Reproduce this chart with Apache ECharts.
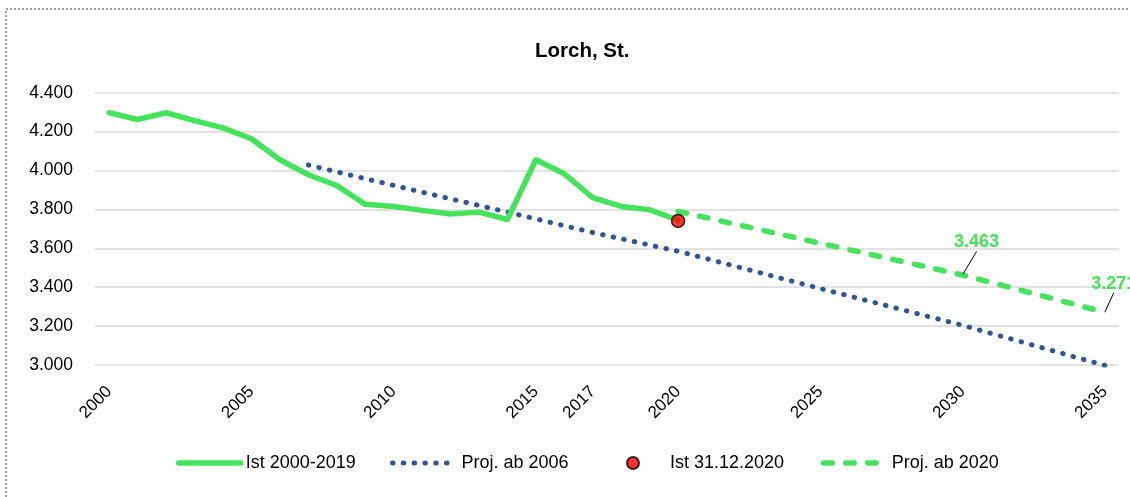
<!DOCTYPE html>
<html>
<head>
<meta charset="utf-8">
<style>
  html, body { margin: 0; padding: 0; background: #fff; }
  #chart { width: 1130px; height: 497px; }
</style>
<script src="https://cdn.jsdelivr.net/npm/echarts@6/dist/echarts.min.js"></script>
</head>
<body>
<div id="chart"></div>
<script>
// Einwohnerentwicklung Lorch, St.
const years = ['2000','2001','2002','2003','2004','2005','2006','2007','2008','2009',
  '2010','2011','2012','2013','2014','2015','2016','2017','2018','2019',
  '2020','2021','2022','2023','2024','2025','2026','2027','2028','2029',
  '2030','2031','2032','2033','2034','2035'];
const labelYears = ['2000','2005','2010','2015','2017','2020','2025','2030','2035'];

// Ist 2000-2019 (bis zum Stand 31.12.2020)
const istYears = ['2000','2001','2002','2003','2004','2005','2006','2007','2008','2009',
  '2010','2011','2012','2013','2014','2015','2016','2017','2018','2019','2020'];
const istValues = [4297, 4262, 4297, 4256, 4219, 4163, 4055, 3978, 3923, 3826,
  3815, 3795, 3776, 3786, 3748, 4055, 3983, 3860, 3815, 3798, 3745];

// Proj. ab 2006
const proj2006Years = ['2007','2010','2014','2017','2020','2025','2030','2035'];
const proj2006Values = [4028, 3923, 3786, 3681, 3585, 3393, 3204, 2998];

// Ist 31.12.2020
const ist2020Year = '2020';
const ist2020Value = 3741;

// Proj. ab 2020
const proj2020Years = ['2020','2025','2030','2035'];
const proj2020Values = [3790, 3626, 3463, 3271];
const proj2020LabelYears = ['2030','2035'];

const yTicks = { min: 3000, max: 4400, step: 200 };

const GREEN = '#45E35B';
const BLUE = '#2F5597';
const SANS = "'Liberation Sans', Arial, sans-serif";

const SOLID = { color: GREEN, width: 5.5, type: 'solid', cap: 'round', join: 'round' };
const DOTTED = { color: BLUE, width: 5, type: [0.5, 10.3], cap: 'round' };
const DASHED = { color: GREEN, width: 5.5, type: [8.5, 13.5], cap: 'round' };

const fmt = v => String(Math.round(v)).replace(/\B(?=(\d{3})+(?!\d))/g, '.');
const pairs = (xs, ys) => xs.map((x, i) => [x, ys[i]]);

const chart = echarts.init(document.getElementById('chart'), null, { renderer: 'canvas' });

const proj2020Data = proj2020Years.map((y, i) => {
  const item = { value: [y, proj2020Values[i]] };
  if (proj2020LabelYears.includes(y)) {
    item.label = { show: true };
    item.labelLine = { show: true };
  }
  return item;
});

// one legend block per entry, so each sits at its own place in the row
const legendBase = {
  top: 454,
  padding: 0,
  itemHeight: 12,
  textStyle: { fontFamily: SANS, fontSize: 18, color: '#000' }
};

chart.setOption({
  animation: false,
  backgroundColor: '#ffffff',
  graphic: [{
    type: 'rect',
    shape: { x: 6, y: 9, width: 1200, height: 600 },
    style: { fill: 'none', stroke: '#7f7f7f', lineWidth: 1.5, lineDash: [2, 2] },
    silent: true
  }],
  title: {
    text: 'Lorch, St.',
    left: 530,
    top: 36,
    textStyle: { fontFamily: SANS, fontSize: 20.5, fontWeight: 'bold', color: '#000' }
  },
  grid: { left: 95, right: 11, top: 92.7, bottom: 132, containLabel: false },
  xAxis: {
    type: 'category',
    data: years,
    boundaryGap: true,
    axisLine: { show: false },
    axisTick: { show: false },
    splitLine: { show: false },
    axisLabel: {
      interval: (idx, val) => labelYears.includes(val),
      rotate: 45,
      margin: 24,
      fontFamily: SANS,
      fontSize: 17,
      color: '#000'
    }
  },
  yAxis: {
    type: 'value',
    min: yTicks.min,
    max: yTicks.max,
    interval: yTicks.step,
    axisLine: { show: false },
    axisTick: { show: false },
    splitLine: { lineStyle: { color: '#D9D9D9', width: 1.5 } },
    axisLabel: {
      formatter: fmt,
      margin: 22,
      fontFamily: SANS,
      fontSize: 17.5,
      color: '#000'
    }
  },
  legend: [
    Object.assign({}, legendBase, {
      left: 176, itemWidth: 62,
      data: [{ name: 'Ist 2000-2019', itemStyle: { opacity: 0 }, lineStyle: SOLID }]
    }),
    Object.assign({}, legendBase, {
      left: 390, itemWidth: 64,
      data: [{ name: 'Proj. ab 2006', itemStyle: { opacity: 0 }, lineStyle: DOTTED }]
    }),
    Object.assign({}, legendBase, {
      left: 626, itemWidth: 64,
      data: [{ name: 'Ist 31.12.2020' }]
    }),
    Object.assign({}, legendBase, {
      left: 821, itemWidth: 63,
      data: [{ name: 'Proj. ab 2020', itemStyle: { opacity: 0 }, lineStyle: DASHED }]
    })
  ],
  series: [
    {
      name: 'Ist 2000-2019',
      type: 'line',
      data: pairs(istYears, istValues),
      symbol: 'none',
      lineStyle: SOLID,
      itemStyle: { color: GREEN },
      z: 3
    },
    {
      name: 'Proj. ab 2006',
      type: 'line',
      data: pairs(proj2006Years, proj2006Values),
      symbol: 'none',
      connectNulls: true,
      lineStyle: DOTTED,
      itemStyle: { color: BLUE },
      z: 2
    },
    {
      name: 'Ist 31.12.2020',
      type: 'scatter',
      data: [[ist2020Year, ist2020Value]],
      symbol: 'circle',
      symbolSize: 13,
      itemStyle: { color: '#FF0000', borderColor: '#000', borderWidth: 1.5 },
      z: 5
    },
    {
      name: 'Proj. ab 2020',
      type: 'line',
      data: proj2020Data,
      symbol: 'circle',
      symbolSize: 1,
      showSymbol: true,
      connectNulls: true,
      lineStyle: DASHED,
      itemStyle: { color: GREEN },
      label: {
        show: false,
        position: 'top',
        formatter: p => fmt(p.value[1]),
        fontFamily: SANS,
        fontSize: 18,
        fontWeight: 'bold',
        color: GREEN
      },
      labelLine: { show: false, lineStyle: { color: '#000', width: 1 } },
      labelLayout: p => {
        const y = proj2020Years[p.dataIndex];
        if (y === '2030') return { dx: 14, dy: -18 };
        if (y === '2035') return { dx: 9, dy: -14 };
        return {};
      },
      z: 4
    }
  ]
});
</script>
</body>
</html>
